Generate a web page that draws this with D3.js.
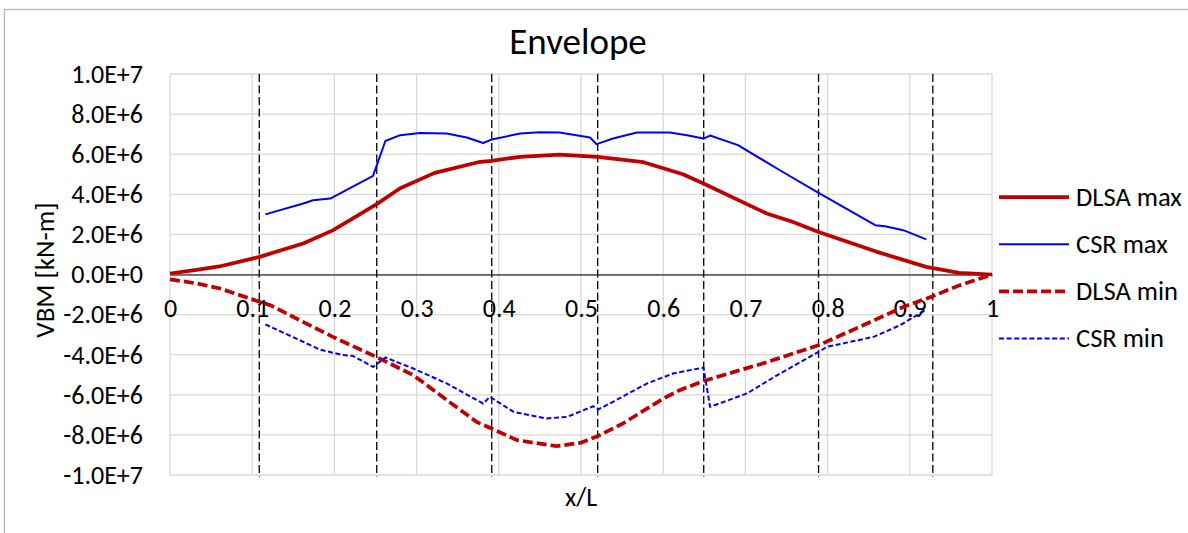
<!DOCTYPE html>
<html>
<head>
<meta charset="utf-8">
<script src="https://cdn.jsdelivr.net/npm/d3@7"></script>
<style>
  body { margin: 0; background: #fff; }
  svg { font-family: Carlito, Calibri, "Liberation Sans", sans-serif; }
</style>
</head>
<body>
<svg id="chart" width="1188" height="533"></svg>
<script>
// x/L positions and VBM values (units of 1E6 kN-m)
const dlsaMaxX = [0, 0.03, 0.06, 0.109, 0.162, 0.198, 0.251, 0.28, 0.322, 0.375, 0.391, 0.426, 0.474, 0.52, 0.576, 0.624, 0.649, 0.726, 0.758, 0.789, 0.86, 0.92, 0.96, 1.0];
const dlsaMaxV = [0.05, 0.22, 0.4, 0.88, 1.55, 2.2, 3.5, 4.3, 5.07, 5.6, 5.67, 5.87, 5.98, 5.87, 5.6, 5.0, 4.54, 3.04, 2.62, 2.12, 1.13, 0.38, 0.08, 0];

const csrMaxX = [0.116, 0.162, 0.174, 0.195, 0.247, 0.262, 0.28, 0.304, 0.337, 0.361, 0.381, 0.391, 0.426, 0.45, 0.474, 0.511, 0.519, 0.539, 0.568, 0.608, 0.629, 0.649, 0.657, 0.691, 0.742, 0.789, 0.858, 0.87, 0.892, 0.92];
const csrMaxV = [3.0, 3.54, 3.7, 3.79, 4.92, 6.66, 6.95, 7.06, 7.03, 6.83, 6.56, 6.73, 7.03, 7.1, 7.08, 6.83, 6.5, 6.78, 7.08, 7.08, 6.95, 6.78, 6.93, 6.45, 5.2, 4.07, 2.46, 2.41, 2.21, 1.75];

const dlsaMinX = [0, 0.033, 0.061, 0.097, 0.122, 0.158, 0.198, 0.251, 0.296, 0.337, 0.373, 0.391, 0.422, 0.47, 0.499, 0.52, 0.551, 0.6, 0.62, 0.649, 0.72, 0.789, 0.839, 0.892, 0.928, 0.961, 1.0];
const dlsaMinV = [-0.24, -0.45, -0.7, -1.2, -1.53, -2.28, -3.11, -4.11, -5.02, -6.27, -7.35, -7.68, -8.26, -8.56, -8.4, -8.07, -7.43, -6.19, -5.77, -5.31, -4.45, -3.53, -2.61, -1.62, -1.08, -0.53, 0];

const csrMinX = [0.116, 0.158, 0.182, 0.21, 0.223, 0.247, 0.262, 0.296, 0.337, 0.381, 0.389, 0.418, 0.458, 0.483, 0.515, 0.521, 0.539, 0.58, 0.612, 0.649, 0.657, 0.702, 0.742, 0.789, 0.799, 0.856, 0.888, 0.92];
const csrMinV = [-2.49, -3.28, -3.74, -4.02, -4.07, -4.61, -4.14, -4.69, -5.44, -6.44, -6.1, -6.85, -7.18, -7.1, -6.57, -6.73, -6.35, -5.44, -4.94, -4.64, -6.6, -5.93, -4.94, -3.86, -3.61, -3.11, -2.53, -1.75];

// section boundaries (black dashed verticals)
const sectionX = [0.1086, 0.2515, 0.3914, 0.5203, 0.6493, 0.789, 0.928];

const xTicks = [0, 0.1, 0.2, 0.3, 0.4, 0.5, 0.6, 0.7, 0.8, 0.9, 1];
const yTicks = [-1e7, -8e6, -6e6, -4e6, -2e6, 0, 2e6, 4e6, 6e6, 8e6, 1e7];

const series = [
  { name: 'DLSA max', xs: dlsaMaxX, vs: dlsaMaxV, color: '#c00000', width: 3.75, dash: null },
  { name: 'CSR max', xs: csrMaxX, vs: csrMaxV, color: '#0000ff', width: 2, dash: null },
  { name: 'DLSA min', xs: dlsaMinX, vs: dlsaMinV, color: '#c00000', width: 3.75, dash: '10,4' },
  { name: 'CSR min', xs: csrMinX, vs: csrMinV, color: '#0000ff', width: 2, dash: '5,2.6' }
];

const svg = d3.select('#chart');
const plot = { left: 170, right: 992, top: 74, bottom: 475 };
const fs = 26;

const x = d3.scaleLinear().domain([0, 1]).range([plot.left, plot.right]);
const y = d3.scaleLinear().domain([-1e7, 1e7]).range([plot.bottom, plot.top]);

// outer chart frame
svg.append('rect')
  .attr('x', 4.5).attr('y', 9.5)
  .attr('width', 1300).attr('height', 600)
  .attr('fill', 'none').attr('stroke', '#b4b4b4').attr('stroke-width', 1.3);

// gridlines
const grid = svg.append('g').attr('stroke', '#d9d9d9').attr('stroke-width', 1.3);
grid.selectAll('.gx').data(xTicks).join('line')
  .attr('x1', d => x(d)).attr('x2', d => x(d))
  .attr('y1', plot.top).attr('y2', plot.bottom);
grid.selectAll('.gy').data(yTicks).join('line')
  .attr('x1', plot.left).attr('x2', plot.right)
  .attr('y1', d => y(d)).attr('y2', d => y(d));

// y axis labels
const fmtE = d => d3.format('.1e')(d).toUpperCase().replace('\u2212', '-');
const yAxis = svg.append('g')
  .attr('transform', `translate(${plot.left - 27},0)`)
  .call(d3.axisLeft(y).tickValues(yTicks).tickFormat(fmtE).tickSize(0).tickPadding(0))
  .attr('font-family', null).attr('font-size', fs);
yAxis.select('.domain').remove();
yAxis.selectAll('text').attr('fill', '#000');

// x axis on the zero line
const xAxis = svg.append('g')
  .attr('transform', `translate(0,${y(0)})`)
  .call(d3.axisBottom(x).tickValues(xTicks).tickFormat(d => String(+d.toFixed(1))).tickSize(0).tickPadding(24))
  .attr('font-family', null).attr('font-size', fs);
xAxis.select('.domain').attr('stroke', '#000').attr('stroke-width', 1.1);
xAxis.selectAll('text').attr('fill', '#000');

// section boundaries
svg.append('g').selectAll('line').data(sectionX).join('line')
  .attr('x1', d => x(d)).attr('x2', d => x(d))
  .attr('y1', plot.top).attr('y2', plot.bottom + 2)
  .attr('stroke', '#000').attr('stroke-width', 1.3)
  .attr('stroke-dasharray', '8,3.5');

// series lines
const line = d3.line().x(d => x(d[0])).y(d => y(d[1] * 1e6));
svg.append('g').selectAll('path').data(series).join('path')
  .attr('d', s => line(d3.zip(s.xs, s.vs)))
  .attr('fill', 'none')
  .attr('stroke', s => s.color)
  .attr('stroke-width', s => s.width)
  .attr('stroke-dasharray', s => s.dash)
  .attr('stroke-linejoin', 'round');

// title and axis titles
svg.append('text')
  .attr('x', 578).attr('y', 54)
  .attr('text-anchor', 'middle').attr('font-size', 37)
  .text('Envelope');
svg.append('text')
  .attr('x', 581).attr('y', 506)
  .attr('text-anchor', 'middle').attr('font-size', fs)
  .text('x/L');
svg.append('text')
  .attr('transform', 'translate(54,270) rotate(-90)')
  .attr('text-anchor', 'middle').attr('font-size', 27)
  .text('VBM [kN-m]');

// legend
const legend = svg.append('g').attr('transform', 'translate(999,197)');
const item = legend.selectAll('g').data(series).join('g')
  .attr('transform', (d, i) => `translate(0,${i * 47.2})`);
item.append('line')
  .attr('x1', 0).attr('x2', 70)
  .attr('stroke', s => s.color)
  .attr('stroke-width', s => s.width)
  .attr('stroke-dasharray', s => s.dash);
item.append('text')
  .attr('x', 77).attr('y', 8.5)
  .attr('font-size', 26.5)
  .text(s => s.name);
</script>
</body>
</html>
